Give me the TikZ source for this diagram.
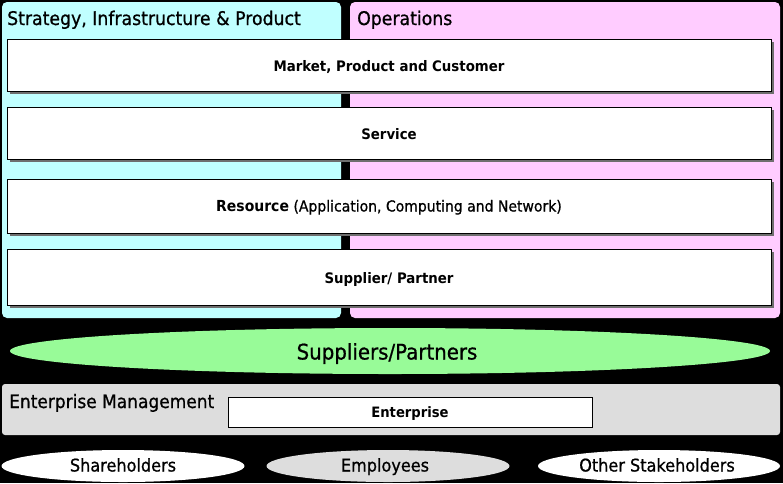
\documentclass[tikz,border=0pt]{standalone}
\usepackage{fontspec}
\setmainfont{DejaVu Sans}[FakeStretch=0.92, UprightFeatures={FakeBold=0.8}]
\usetikzlibrary{shapes.geometric}
\definecolor{cyanbg}{RGB}{192,255,255}
\definecolor{pinkbg}{RGB}{255,204,255}
\definecolor{greenbg}{RGB}{152,251,152}
\definecolor{graybg}{RGB}{221,221,221}
\definecolor{shadowc}{RGB}{110,110,110}
\tikzset{
  rowbox/.style={draw=black, line width=0.8pt, fill=white, minimum width=764pt, minimum height=#1, inner sep=0pt},
  title/.style={anchor=base west, inner sep=0pt, font=\fontsize{18.8}{20}\selectfont},
  boxtext/.style={anchor=base, inner sep=0pt, font=\fontsize{14.5}{16}\selectfont},
  oval/.style={ellipse, draw=none, inner sep=0pt},
  stake/.style={oval, minimum width=243pt, minimum height=32pt},
  staketext/.style={anchor=base, inner sep=0pt, font=\fontsize{17.5}{19}\selectfont},
}
\begin{document}
\begin{tikzpicture}[x=1pt,y=-1pt]
\fill[black] (0,0) rectangle (783,483);
\useasboundingbox (0,0) rectangle (783,483);
% panels
\fill[cyanbg, rounded corners=5pt] (2,2) rectangle (341,318);
\fill[pinkbg, rounded corners=5pt] (350,2) rectangle (780,318);
\node[title] (strat) at (7,25) {Strategy, Infrastructure \& Product};
\node[title] (ops) at (357,25) {Operations};
% rows with shadows
\fill[shadowc] (10,42) rectangle (774,94);
\node[rowbox=52pt] (mpc) at (389,65) {};
\node[boxtext] (mpct) at (mpc.center |- 0,71) {\textbf{Market, Product and Customer}};
\fill[shadowc] (10,110) rectangle (774,162);
\node[rowbox=52pt] (svc) at (389,133) {};
\node[boxtext] (svct) at (svc.center |- 0,139) {\textbf{Service}};
\fill[shadowc] (10,182) rectangle (774,236);
\node[rowbox=54pt] (res) at (389,206) {};
\node[boxtext, font=\fontsize{15.2}{17}\selectfont] (rest) at (res.center |- 0,211.5) {\textbf{Resource} (Application, Computing and Network)};
\fill[shadowc] (10,252) rectangle (774,308);
\node[rowbox=56pt] (sup) at (389,277) {};
\node[boxtext] (supt) at (sup.center |- 0,283.3) {\textbf{Supplier/ Partner}};
% suppliers ellipse
\node[oval, fill=greenbg, minimum width=760pt, minimum height=46pt] (sp) at (390,351) {};
\node[boxtext, font=\fontsize{21.5}{23}\selectfont] (spt) at (387,359.5) {Suppliers/Partners};
% enterprise management
\fill[graybg, rounded corners=3pt] (2,384) rectangle (780,435);
\node[title, font=\fontsize{18.5}{20}\selectfont] (em) at (9,408) {Enterprise Management};
\node[draw=black, line width=0.8pt, fill=white, minimum width=364pt, minimum height=30pt, inner sep=0pt] (ent) at (410,412) {};
\node[boxtext, font=\fontsize{14.3}{16}\selectfont] (entt) at (ent.center |- 0,417.5) {\textbf{Enterprise}};
% stakeholders
\node[stake, fill=white] (sh) at (123,466) {};
\node[staketext] (sht) at (sh.center |- 0,471.5) {Shareholders};
\node[stake, fill=graybg] (emp) at (388,466) {};
\node[staketext] (empt) at (385,471.5) {Employees};
\node[stake, fill=white, minimum width=242pt] (oth) at (659,466) {};
\node[staketext] (otht) at (657,471.5) {Other Stakeholders};
\end{tikzpicture}
\end{document}
